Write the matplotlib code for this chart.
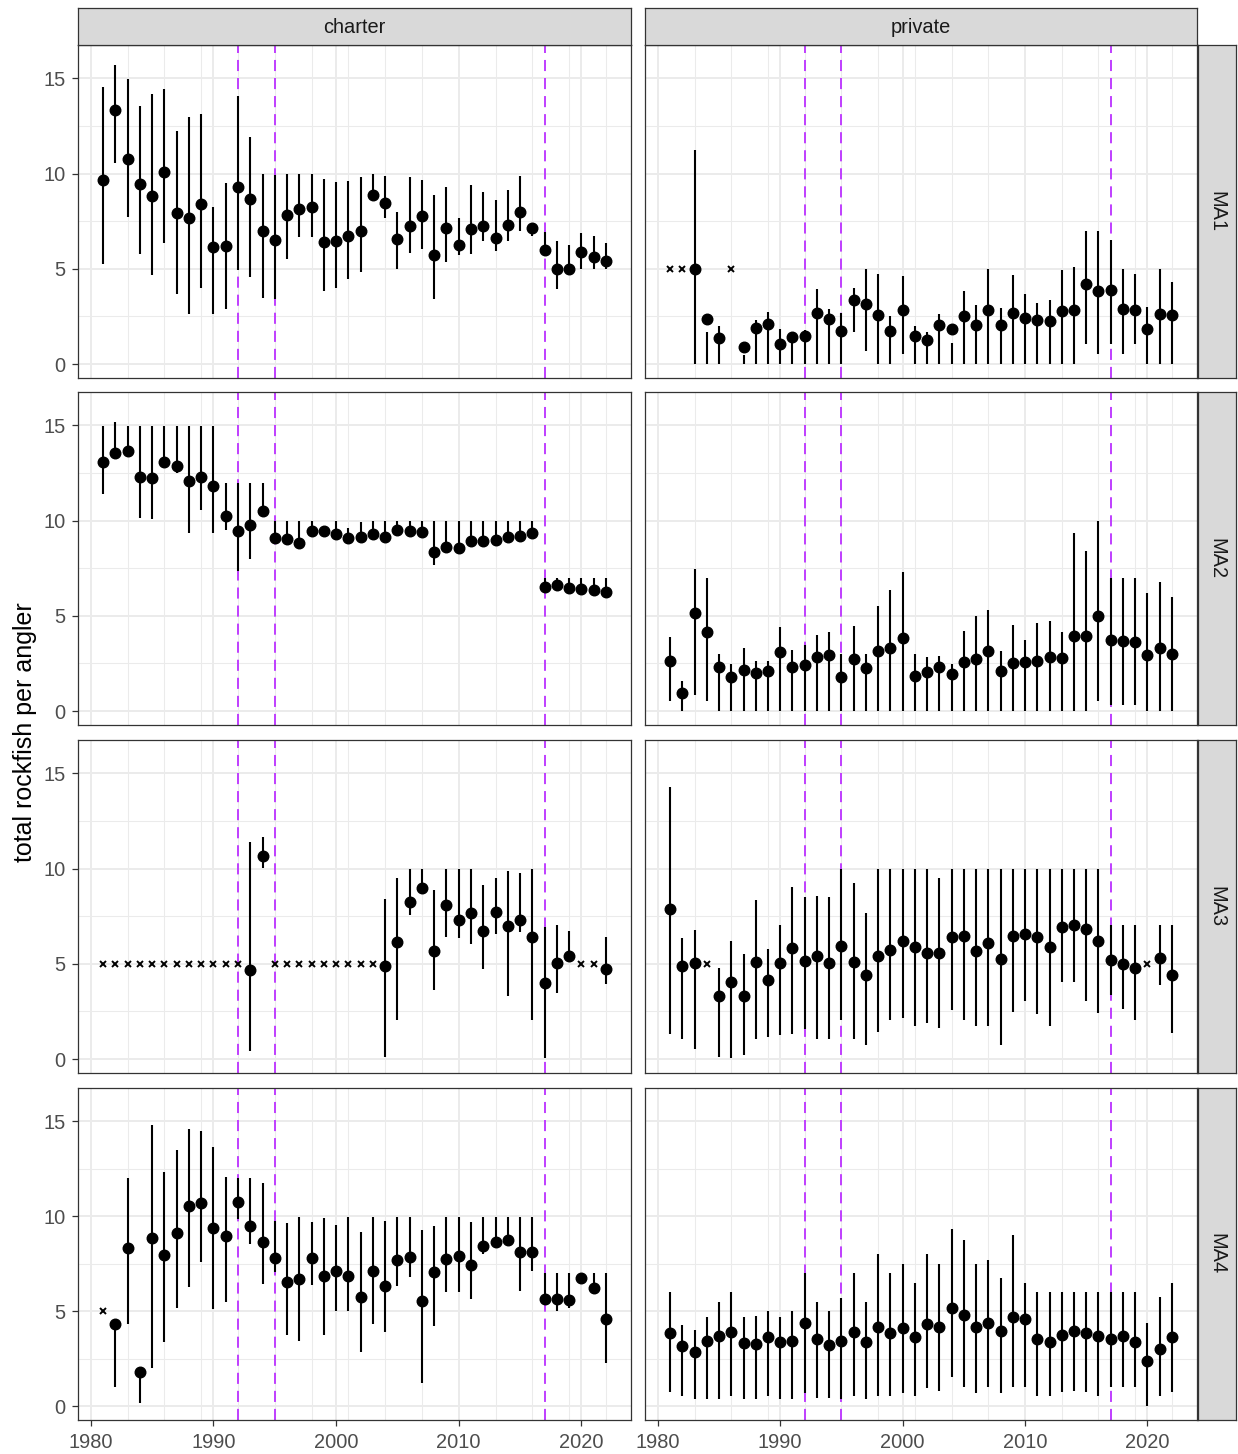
import numpy as np
import matplotlib
matplotlib.use("Agg")
import matplotlib.pyplot as plt
from matplotlib.ticker import FixedLocator

plt.rcParams['font.family'] = ['Liberation Sans', 'DejaVu Sans']
plt.rcParams['lines.scale_dashes'] = False

nan = np.nan
years = list(range(1981, 2023))
fleets = ["charter", "private"]
areas = ["MA1", "MA2", "MA3", "MA4"]
change_years = [1992, 1995, 2017]
missing_y = 5
x_major = [1980, 1990, 2000, 2010, 2020]
x_minor = list(range(1980, 2023, 3))
y_major = [0, 5, 10, 15]
y_minor = [2.5, 7.5, 12.5]
y_title = "total rockfish per angler"

# ---------------- charter MA1 ----------------
charter_MA1_est = [9.68, 13.35, 10.77, 9.47, 8.81, 10.09, 7.92, 7.69, 8.42, 6.16,
                   6.18, 9.30, 8.67, 6.97, 6.50, 7.83, 8.16, 8.25, 6.43, 6.44,
                   6.72, 6.99, 8.86, 8.44, 6.57, 7.25, 7.76, 5.74, 7.16, 6.25,
                   7.08, 7.23, 6.60, 7.30, 7.99, 7.15, 6.01, 4.97, 4.99, 5.90,
                   5.64, 5.39]
charter_MA1_lo = [5.24, 10.58, 7.74, 5.76, 4.68, 6.34, 3.68, 2.64, 3.99, 2.64,
                  2.87, 4.92, 4.57, 3.45, 3.40, 5.50, 6.65, 6.65, 3.82, 3.99,
                  4.48, 4.85, 8.75, 7.67, 4.99, 5.81, 6.02, 3.43, 5.36, 5.73,
                  5.78, 6.46, 5.95, 6.46, 7.00, 6.72, 5.76, 3.92, 4.71, 5.01,
                  5.01, 5.01]
charter_MA1_hi = [14.52, 15.71, 14.99, 13.57, 14.17, 14.43, 12.21, 12.99, 13.12, 8.27,
                  9.49, 14.08, 11.93, 10.0, 9.9, 10.0, 10.0, 10.0, 9.72, 9.54,
                  9.61, 9.82, 10.0, 9.89, 8.0, 9.82, 9.68, 8.86, 9.32, 7.67,
                  9.40, 9.04, 8.62, 9.14, 9.88, 7.34, 6.94, 6.46, 6.25, 6.90,
                  6.74, 6.37]

# ---------------- private MA1 ----------------
private_MA1_est = [nan, nan, 5.01, 2.35, 1.35, nan, 0.89, 1.87, 2.08, 1.05,
                   1.40, 1.47, 2.68, 2.38, 1.75, 3.38, 3.17, 2.57, 1.72, 2.84,
                   1.47, 1.28, 2.03, 1.82, 2.54, 2.03, 2.82, 2.07, 2.70, 2.43,
                   2.33, 2.26, 2.77, 2.85, 4.22, 3.84, 3.89, 2.91, 2.84, 1.86,
                   2.64, 2.57]
private_MA1_lo = [nan, nan, 0, 0, 0, nan, 0, 0, 0, 0,
                  0, 0, 0, 0, 0, 1.70, 0.68, 0, 0, 0.51,
                  0, 0, 0, 0, 0, 0, 0, 0, 0, 0,
                  0, 0, 0, 0, 1.03, 0.54, 1.03, 0.54, 1.03, 0,
                  0, 0]
private_MA1_hi = [nan, nan, 11.23, 1.70, 2.0, nan, 0.5, 2.33, 2.71, 1.84,
                  1.63, 1.77, 3.92, 2.87, 2.68, 4.01, 5.01, 4.75, 2.52, 4.61,
                  1.98, 1.66, 2.61, 1.12, 3.82, 3.08, 5.01, 2.92, 4.68, 3.66,
                  3.20, 3.34, 4.92, 5.10, 6.99, 6.99, 6.50, 5.01, 4.75, 2.99,
                  5.01, 4.31]

# ---------------- charter MA2 ----------------
charter_MA2_est = [13.06, 13.56, 13.66, 12.31, 12.26, 13.08, 12.85, 12.10, 12.28, 11.84,
                   10.25, 9.46, 9.77, 10.51, 9.09, 9.02, 8.83, 9.44, 9.46, 9.30,
                   9.09, 9.16, 9.32, 9.16, 9.51, 9.47, 9.42, 8.34, 8.63, 8.56,
                   8.95, 8.91, 9.00, 9.12, 9.21, 9.37, 6.50, 6.60, 6.48, 6.39,
                   6.36, 6.27]
charter_MA2_lo = [11.40, 13.56, 13.66, 10.12, 10.09, 13.08, 12.50, 9.37, 10.56, 9.33,
                  9.51, 7.34, 8.00, 10.51, 9.09, 9.02, 8.83, 9.44, 9.46, 9.30,
                  9.09, 9.16, 9.32, 9.16, 9.51, 9.47, 9.42, 7.65, 8.63, 8.56,
                  8.95, 8.91, 9.00, 9.12, 9.21, 9.37, 6.50, 6.60, 6.48, 6.39,
                  6.36, 6.27]
charter_MA2_hi = [14.99, 15.15, 14.99, 14.99, 14.99, 14.99, 14.99, 14.99, 14.99, 14.99,
                  11.98, 11.98, 11.98, 11.98, 10.0, 10.0, 10.0, 10.0, 9.6, 10.0,
                  9.6, 9.9, 10.0, 10.0, 10.0, 10.0, 10.0, 10.0, 10.0, 10.0,
                  10.0, 10.0, 10.0, 10.0, 10.0, 10.0, 6.99, 6.99, 6.99, 6.99,
                  6.99, 6.99]

# ---------------- private MA2 ----------------
private_MA2_est = [2.61, 0.95, 5.15, 4.15, 2.29, 1.79, 2.14, 2.01, 2.08, 3.12,
                   2.33, 2.40, 2.85, 2.96, 1.80, 2.71, 2.26, 3.17, 3.33, 3.84,
                   1.86, 2.03, 2.29, 1.94, 2.56, 2.75, 3.17, 2.12, 2.52, 2.57,
                   2.63, 2.84, 2.77, 3.92, 3.92, 5.01, 3.75, 3.70, 3.61, 2.94,
                   3.31, 2.99]
private_MA2_lo = [0.51, 0, 0.86, 0.51, 0, 0, 0, 0, 0, 0,
                  0, 0, 0, 0, 0, 0, 0, 0, 0, 0,
                  0, 0, 0, 0, 0, 0, 0, 0, 0, 0,
                  0, 0, 0, 0, 0, 0.51, 0.33, 0.33, 0.33, 0,
                  0, 0]
private_MA2_hi = [3.87, 1.56, 7.48, 6.99, 2.98, 2.47, 3.31, 2.64, 2.61, 4.40,
                  3.22, 3.49, 3.98, 4.15, 2.98, 4.48, 2.98, 5.50, 6.37, 7.30,
                  2.98, 2.82, 2.91, 2.47, 4.19, 4.97, 5.32, 3.13, 4.54, 3.71,
                  4.62, 4.75, 4.13, 9.37, 8.39, 9.96, 6.99, 6.99, 6.99, 6.20,
                  6.78, 5.99]

# ---------------- charter MA3 ----------------
charter_MA3_est = [nan, nan, nan, nan, nan, nan, nan, nan, nan, nan,
                   nan, nan, 4.68, 10.65, nan, nan, nan, nan, nan, nan,
                   nan, nan, nan, 4.87, 6.16, 8.27, 9.00, 5.69, 8.11, 7.32,
                   7.67, 6.71, 7.71, 6.97, 7.32, 6.39, 3.99, 5.04, 5.43, nan,
                   nan, 4.75]
charter_MA3_lo = [nan, nan, nan, nan, nan, nan, nan, nan, nan, nan,
                  nan, nan, 0.42, 10.05, nan, nan, nan, nan, nan, nan,
                  nan, nan, nan, 0.12, 2.05, 7.55, 8.65, 3.63, 6.41, 6.34,
                  6.04, 4.75, 6.55, 3.29, 6.67, 2.05, 0.05, 3.49, 5.32, nan,
                  nan, 3.92]
charter_MA3_hi = [nan, nan, nan, nan, nan, nan, nan, nan, nan, nan,
                  nan, nan, 11.40, 11.68, nan, nan, nan, nan, nan, nan,
                  nan, nan, nan, 8.39, 9.53, 10.0, 10.0, 8.86, 10.0, 10.0,
                  10.0, 9.16, 9.53, 9.86, 9.79, 10.0, 6.94, 7.02, 6.72, nan,
                  nan, 6.41]

# ---------------- private MA3 ----------------
private_MA3_est = [7.86, 4.89, 5.04, nan, 3.31, 4.03, 3.31, 5.08, 4.15, 5.04,
                   5.85, 5.15, 5.39, 5.04, 5.94, 5.08, 4.40, 5.41, 5.74, 6.18,
                   5.88, 5.59, 5.57, 6.43, 6.46, 5.66, 6.09, 5.25, 6.46, 6.58,
                   6.39, 5.90, 6.94, 7.02, 6.85, 6.18, 5.22, 4.97, 4.78, nan,
                   5.29, 4.43]
private_MA3_lo = [1.30, 1.05, 0.51, nan, 0.12, 0.07, 0.21, 1.05, 1.17, 1.24,
                  1.31, 1.56, 1.05, 1.05, 2.05, 1.05, 0.72, 1.42, 2.05, 2.17,
                  1.73, 1.91, 1.65, 2.56, 2.05, 1.73, 1.73, 0.72, 2.47, 3.05,
                  2.38, 1.73, 4.05, 4.05, 3.05, 2.43, 3.38, 2.64, 2.05, nan,
                  3.89, 1.38]
private_MA3_hi = [14.26, 6.34, 6.78, nan, 4.78, 6.18, 5.53, 8.35, 5.80, 7.02,
                  9.04, 8.51, 8.56, 8.51, 10.0, 9.26, 7.65, 10.0, 10.0, 10.0,
                  10.0, 10.0, 9.53, 10.0, 10.0, 10.0, 10.0, 10.0, 10.0, 10.0,
                  10.0, 10.0, 10.0, 10.0, 10.0, 10.0, 7.02, 7.02, 7.02, nan,
                  7.02, 7.02]

# ---------------- charter MA4 ----------------
charter_MA4_est = [nan, 4.34, 8.30, 1.79, 8.86, 7.96, 9.14, 10.55, 10.68, 9.38,
                   8.94, 10.75, 9.49, 8.66, 7.79, 6.51, 6.70, 7.79, 6.83, 7.12,
                   6.83, 5.72, 7.11, 6.30, 7.70, 7.86, 5.51, 7.05, 7.77, 7.93,
                   7.44, 8.44, 8.66, 8.75, 8.09, 8.14, 5.65, 5.62, 5.57, 6.76,
                   6.21, 4.60]
charter_MA4_lo = [nan, 1.02, 4.34, 0.16, 2.01, 3.38, 5.16, 6.27, 7.58, 5.13,
                  5.46, 9.85, 8.54, 6.42, 7.05, 3.76, 3.45, 6.39, 3.76, 5.02,
                  5.02, 2.84, 4.34, 3.90, 6.34, 6.79, 1.23, 4.24, 6.00, 6.00,
                  5.64, 8.02, 8.66, 8.75, 6.04, 7.12, 5.65, 5.02, 5.16, 6.76,
                  5.90, 2.26]
charter_MA4_hi = [nan, 4.34, 11.99, 1.79, 14.79, 12.31, 13.48, 14.60, 14.46, 13.62,
                  12.04, 11.99, 11.99, 11.73, 9.75, 9.63, 9.98, 9.71, 9.92, 9.54,
                  9.98, 9.15, 9.98, 9.75, 9.98, 9.98, 9.28, 9.49, 9.98, 9.98,
                  9.71, 9.98, 9.98, 9.98, 9.98, 9.98, 7.00, 7.00, 7.00, 6.76,
                  7.00, 7.00]

# ---------------- private MA4 ----------------
private_MA4_est = [3.83, 3.19, 2.85, 3.45, 3.69, 3.92, 3.31, 3.29, 3.64, 3.36,
                   3.41, 4.36, 3.54, 3.24, 3.41, 3.92, 3.40, 4.15, 3.85, 4.10,
                   3.66, 4.32, 4.17, 5.15, 4.80, 4.17, 4.38, 3.96, 4.71, 4.57,
                   3.55, 3.38, 3.73, 3.94, 3.85, 3.68, 3.54, 3.69, 3.40, 2.40,
                   3.03, 3.62]
private_MA4_lo = [0.75, 0.53, 0.35, 0.35, 0.35, 0.53, 0.35, 0.35, 0.53, 0.35,
                  0.35, 0.70, 0.44, 0.44, 0.35, 0.53, 0.35, 0.53, 0.53, 0.70,
                  0.53, 0.98, 0.79, 1.52, 1.02, 0.70, 1.02, 0.70, 1.02, 1.02,
                  0.53, 0.53, 0.75, 0.81, 0.75, 0.53, 1.02, 1.02, 1.02, 0.0,
                  0.53, 0.75]
private_MA4_hi = [6.00, 4.29, 3.99, 4.67, 5.50, 6.00, 4.67, 4.74, 4.99, 4.67,
                  4.99, 7.00, 5.50, 4.99, 5.69, 7.00, 5.50, 8.00, 7.00, 7.49,
                  6.48, 8.00, 7.49, 9.31, 8.73, 7.49, 7.67, 6.74, 9.00, 6.48,
                  6.00, 6.00, 6.00, 6.00, 6.00, 6.00, 6.00, 6.00, 6.00, 4.38,
                  5.72, 6.48]

panels = {
    ("charter", "MA1"): (charter_MA1_est, charter_MA1_lo, charter_MA1_hi),
    ("private", "MA1"): (private_MA1_est, private_MA1_lo, private_MA1_hi),
    ("charter", "MA2"): (charter_MA2_est, charter_MA2_lo, charter_MA2_hi),
    ("private", "MA2"): (private_MA2_est, private_MA2_lo, private_MA2_hi),
    ("charter", "MA3"): (charter_MA3_est, charter_MA3_lo, charter_MA3_hi),
    ("private", "MA3"): (private_MA3_est, private_MA3_lo, private_MA3_hi),
    ("charter", "MA4"): (charter_MA4_est, charter_MA4_lo, charter_MA4_hi),
    ("private", "MA4"): (private_MA4_est, private_MA4_lo, private_MA4_hi),
}

# ---------------- layout (pixels) ----------------
W, H = 1238, 1454
col_x = [(78, 631), (645, 1197)]
row_y = [(45, 378), (392, 725), (740, 1073), (1088, 1420)]
top_strip = (8, 45)
right_strip = (1198, 1236)

PURPLE = '#BF3EFF'
GRID = '#EBEBEB'
BORDER = '#333333'
TICKTXT = '#4D4D4D'
STRIPFILL = '#D9D9D9'
FS = 14.4

fig = plt.figure(figsize=(W / 100, H / 100), dpi=100)
fig.patch.set_facecolor('white')


def rect(x0, x1, y0, y1):
    return [x0 / W, 1 - y1 / H, (x1 - x0) / W, (y1 - y0) / H]


yrs = np.array(years)
for r, area in enumerate(areas):
    for c, fleet in enumerate(fleets):
        x0, x1 = col_x[c]
        y0, y1 = row_y[r]
        ax = fig.add_axes(rect(x0, x1, y0, y1))
        est, lo, hi = (np.array(v, dtype=float) for v in panels[(fleet, area)])
        ax.set_xlim(1978.95, 2024.05)
        ax.set_ylim(-0.73, 16.75)
        ax.xaxis.set_major_locator(FixedLocator(x_major))
        ax.xaxis.set_minor_locator(FixedLocator(x_minor))
        ax.yaxis.set_major_locator(FixedLocator(y_major))
        ax.yaxis.set_minor_locator(FixedLocator(y_minor))
        ax.grid(which='major', color=GRID, lw=1.4)
        ax.grid(which='minor', color=GRID, lw=0.75)
        ax.set_axisbelow(True)
        for s in ax.spines.values():
            s.set_color(BORDER)
            s.set_linewidth(0.9)
            s.set_zorder(6)
        ax.tick_params(which='minor', length=0)
        ax.tick_params(which='major', color=BORDER, width=0.9, length=4,
                       labelsize=FS, labelcolor=TICKTXT, pad=5)
        if c != 0:
            ax.tick_params(axis='y', which='major', length=0, labelleft=False)
        if r != len(areas) - 1:
            ax.tick_params(axis='x', which='major', length=0, labelbottom=False)

        for cy in change_years:
            ax.axvline(cy, color=PURPLE, lw=1.4, dashes=(8, 5), zorder=2)

        ok = ~np.isnan(est)
        ax.vlines(yrs[ok], lo[ok], hi[ok], color='black', lw=1.5, zorder=3)
        ax.plot(yrs[ok], est[ok], 'o', ms=7.6, color='black', mec='black',
                zorder=4)
        miss = np.isnan(est)
        ax.plot(yrs[miss], np.full(miss.sum(), missing_y), 'x', ms=5.0,
                mew=1.4, color='black', zorder=4)

        # top strips
        if r == 0:
            sa = fig.add_axes(rect(x0, x1, top_strip[0], top_strip[1]))
            sa.set_facecolor(STRIPFILL)
            sa.set_xticks([]); sa.set_yticks([])
            for s in sa.spines.values():
                s.set_color(BORDER); s.set_linewidth(0.9)
            sa.text(0.5, 0.47, fleet, ha='center', va='center', fontsize=FS,
                    color='#1A1A1A', transform=sa.transAxes)
        # right strips
        if c == 1:
            sa = fig.add_axes(rect(right_strip[0], right_strip[1], y0, y1))
            sa.set_facecolor(STRIPFILL)
            sa.set_xticks([]); sa.set_yticks([])
            for s in sa.spines.values():
                s.set_color(BORDER); s.set_linewidth(0.9)
            sa.text(0.5, 0.5, area, ha='center', va='center', fontsize=FS,
                    color='#1A1A1A', rotation=-90, transform=sa.transAxes)

fig.text(25 / W, 1 - 732 / H, y_title, rotation=90, ha='center', va='center',
         fontsize=18, color='black')

fig.savefig('out.png', dpi=100, facecolor='white')
